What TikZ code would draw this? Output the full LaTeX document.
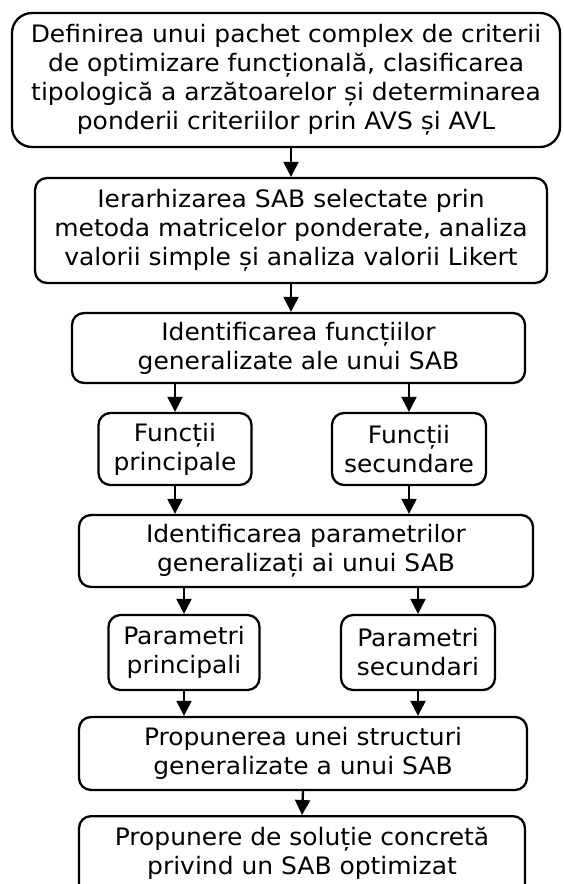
\documentclass[tikz,border=0pt]{standalone}
\usepackage{fontspec}
\setmainfont{DejaVu Sans}[FakeStretch=1.04]
\usepackage{tikz}
\usetikzlibrary{arrows.meta}

\begin{document}
\begin{tikzpicture}[x=1pt, y=-1pt,
  pas/.style={draw, line width=2.3pt, rounded corners=12pt, align=center, inner sep=0pt,
    font=\fontsize{24}{29}\selectfont},
  sageata/.style={line width=2.3pt, -{Triangle[width=15pt,length=15pt]}}]
\useasboundingbox (0,0) rectangle (564,884);
\node[pas, rounded corners=20pt, minimum width=548pt, minimum height=134pt] (def) at (286,80) {Definirea unui pachet complex de criterii\\ de optimizare funcțională, clasificarea\\ tipologică a arzătoarelor și determinarea\\ ponderii criteriilor prin AVS și AVL};
\node[pas, minimum width=512pt, minimum height=105pt] (ier) at (291,230.5) {Ierarhizarea  SAB selectate prin\\ metoda matricelor ponderate, analiza\\ valorii simple și analiza valorii Likert};
\node[pas, minimum width=453pt, minimum height=70pt] (fun) at (298.5,348) {Identificarea funcțiilor\\ generalizate ale unui SAB};
\node[pas, minimum width=153pt, minimum height=72pt] (fp) at (175,449) {Funcții\\ principale};
\node[pas, minimum width=154pt, minimum height=72pt] (fs) at (409,449) {Funcții\\ secundare};
\node[pas, minimum width=454pt, minimum height=72pt] (par) at (306,551) {Identificarea parametrilor\\ generalizați ai unui SAB};
\node[pas, minimum width=151pt, minimum height=75pt] (pp) at (184,652.5) {Parametri\\ principali};
\node[pas, minimum width=154pt, minimum height=75pt] (ps) at (418,652.5) {Parametri\\ secundari};
\node[pas, minimum width=448pt, minimum height=73pt] (str) at (303,753.5) {Propunerea unei structuri\\ generalizate a unui SAB};
\node[pas, minimum width=446pt, inner ysep=11pt, text depth=30pt, anchor=north] (sol) at (302,815) {Propunere de soluție concretă\\ privind un SAB optimizat};
\draw[sageata] (ier.north |- def.south) -- (ier.north);
\draw[sageata] (ier.south) -- (ier.south |- fun.north);
\draw[sageata] (fp.north |- fun.south) -- (fp.north);
\draw[sageata] (fs.north |- fun.south) -- (fs.north);
\draw[sageata] (fp.south) -- (fp.south |- par.north);
\draw[sageata] (fs.south) -- (fs.south |- par.north);
\draw[sageata] (pp.north |- par.south) -- (pp.north);
\draw[sageata] (ps.north |- par.south) -- (ps.north);
\draw[sageata] (pp.south) -- (pp.south |- str.north);
\draw[sageata] (ps.south) -- (ps.south |- str.north);
\draw[sageata] (str.south) -- (sol.north);
\end{tikzpicture}
\end{document}
